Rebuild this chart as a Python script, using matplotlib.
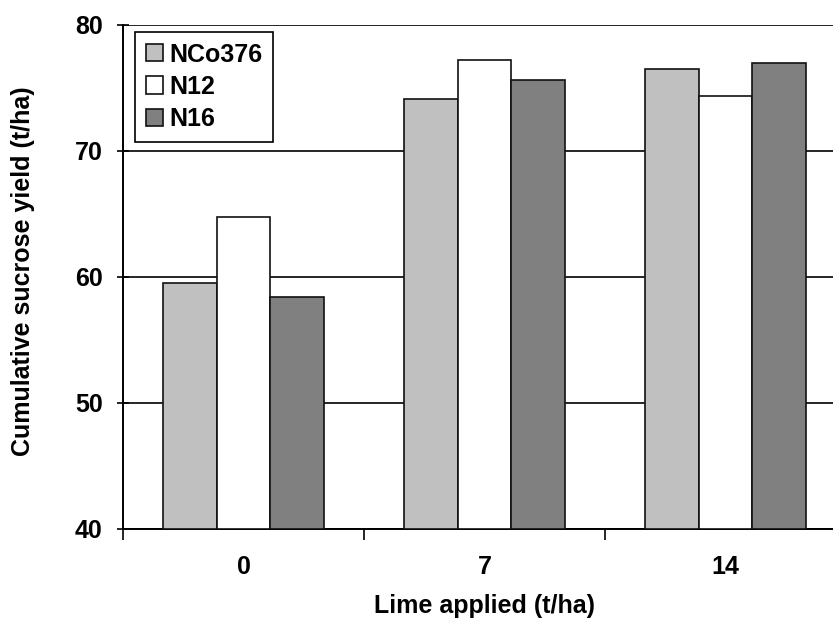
import numpy as np
import matplotlib
matplotlib.use('Agg')
import matplotlib.pyplot as plt
from matplotlib.ticker import FixedLocator

# data
lime_rates = ['0', '7', '14']
varieties = ['NCo376', 'N12', 'N16']
nco376 = [59.5, 74.1, 76.5]
n12 = [64.8, 77.2, 74.4]
n16 = [58.4, 75.6, 77.0]

colors = ['#c0c0c0', '#ffffff', '#808080']

plt.rcParams['font.family'] = ['Liberation Sans', 'DejaVu Sans']
plt.rcParams['font.weight'] = 'bold'
plt.rcParams['font.size'] = 18

fig = plt.figure(figsize=(8.33, 6.26), dpi=100)
ax = fig.add_axes([123 / 833, 97 / 626, 723 / 833, 504 / 626])

x = np.arange(len(lime_rates))
width = 0.222
for i, (vals, name) in enumerate(zip([nco376, n12, n16], varieties)):
    ax.bar(x + (i - 1) * width, np.array(vals) - 40, width, bottom=40,
           color=colors[i], edgecolor='#111111', linewidth=1.2, label=name,
           zorder=3)

ax.set_xlim(-0.5, 2.5)
ax.set_ylim(40, 80)
ax.set_yticks([40, 50, 60, 70, 80])
ax.yaxis.grid(True, color='black', linewidth=1.2)
ax.set_axisbelow(True)

ax.set_xticks(x)
ax.set_xticklabels(lime_rates, fontweight='bold')
ax.xaxis.set_minor_locator(FixedLocator([-0.5, 0.5, 1.5]))
ax.tick_params(axis='x', which='major', length=0, pad=19)
ax.tick_params(axis='x', which='minor', length=8, width=1.2, direction='out')
ax.tick_params(axis='y', length=9, width=1.2, direction='inout', pad=10)
for lab in ax.get_yticklabels():
    lab.set_fontweight('bold')

for s in ['top', 'right']:
    ax.spines[s].set_visible(False)
ax.spines['left'].set_linewidth(1.4)
ax.spines['bottom'].set_linewidth(1.4)

ax.set_xlabel('Lime applied (t/ha)', fontweight='bold')
ax.set_ylabel('Cumulative sucrose yield (t/ha)', fontweight='bold')
ax.xaxis.set_label_coords(0.5, -0.128)
ax.yaxis.set_label_coords(-0.122, 0.512)

leg = ax.legend(loc='upper left', bbox_to_anchor=(0.0166, 0.986), frameon=True,
                fancybox=False, edgecolor='black', framealpha=1,
                handlelength=0.68, handleheight=0.68, handletextpad=0.27,
                borderpad=0.42, labelspacing=0.33, borderaxespad=0,
                prop={'weight': 'bold', 'size': 18})
leg.get_frame().set_linewidth(1.2)

plt.savefig('out.png', dpi=100)
